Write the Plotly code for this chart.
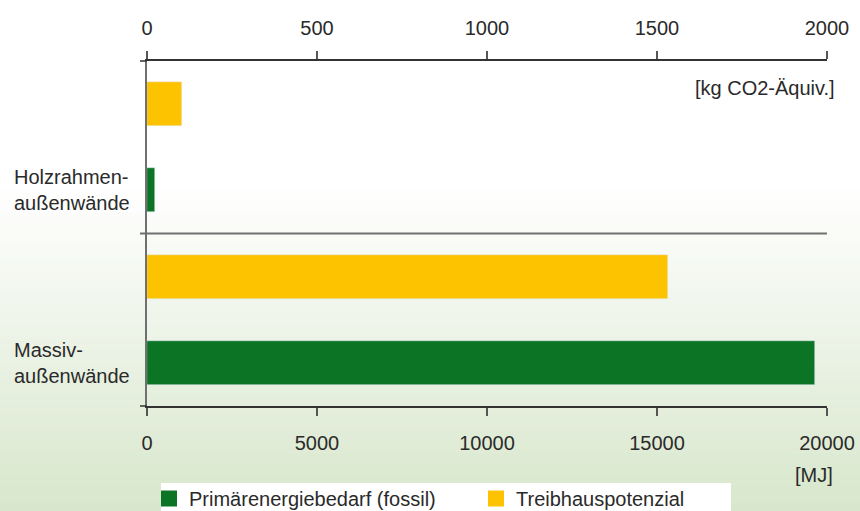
import numpy as np
import plotly.graph_objects as go

categories = ["Holzrahmen-außenwände", "Massiv-außenwände"]
category_labels = ["Holzrahmen-<br>außenwände", "Massiv-<br>außenwände"]
series_names = ["Primärenergiebedarf (fossil)", "Treibhauspotenzial"]
primaerenergie_mj = [235, 19650]        # Primärenergiebedarf (fossil) [MJ]
treibhaus_kg = [103, 1533]              # Treibhauspotenzial [kg CO2-Äquiv.]
mj_ticks = [0, 5000, 10000, 15000, 20000]
kg_ticks = [0, 500, 1000, 1500, 2000]

W, H = 860, 511
ML, MR, MT, MB = 147, 33, 61, 105
PW, PH = W - ML - MR, H - MT - MB

def px2x(px):
    return (px - ML) / PW

def py2y(py):
    return (H - MB - py) / PH

FONT = "Liberation Sans, Arial, Helvetica, sans-serif"
TXT = "#2a2a2a"
GREEN = "#0b7425"
YELLOW = "#fdc300"

fig = go.Figure()
fig.add_trace(go.Bar(
    name=series_names[0], y=categories, x=primaerenergie_mj,
    orientation="h", xaxis="x", yaxis="y", marker_color=GREEN,
    offset=0.1225, width=0.255, hoverinfo="x+name", showlegend=False))
fig.add_trace(go.Bar(
    name=series_names[1], y=categories, x=treibhaus_kg,
    orientation="h", xaxis="x2", yaxis="y", marker_color=YELLOW,
    offset=-0.3775, width=0.255, hoverinfo="x+name", showlegend=False))
# legend entries with larger square swatches
for nm, col in zip(series_names, [GREEN, YELLOW]):
    fig.add_trace(go.Scatter(x=[None], y=[None], mode="markers", name=nm,
                             marker=dict(symbol="square", size=16, color=col),
                             xaxis="x", yaxis="y", showlegend=True))

shapes = []
# background gradient (white -> light green)
top_c = np.array([255, 255, 255])
bot_c = np.array([216, 231, 204])
g0, g1, n = 190, H, 60
edges = np.linspace(g0, g1, n + 1)
shapes.append(dict(type="rect", xref="paper", yref="paper", layer="below",
                   x0=px2x(0), x1=px2x(W), y0=py2y(0), y1=py2y(g0),
                   fillcolor="white", line_width=0))
for i in range(n):
    t = (i + 0.5) / n
    c = top_c + (bot_c - top_c) * t
    shapes.append(dict(type="rect", xref="paper", yref="paper", layer="below",
                       x0=px2x(0), x1=px2x(W), y0=py2y(edges[i + 1] + 0.5), y1=py2y(edges[i]),
                       fillcolor="rgb(%d,%d,%d)" % tuple(c.astype(int)), line_width=0))
# legend white box
shapes.append(dict(type="rect", xref="paper", yref="paper", layer="below",
                   x0=px2x(161), x1=px2x(731), y0=py2y(H + 2), y1=py2y(483),
                   fillcolor="white", line_width=0))
# axis line extensions + middle separator
shapes.append(dict(type="line", xref="paper", yref="paper", x0=px2x(140), x1=0,
                   y0=1, y1=1, line=dict(color="#333333", width=1.5)))
shapes.append(dict(type="line", xref="paper", yref="paper", x0=px2x(140), x1=0,
                   y0=0, y1=0, line=dict(color="#333333", width=1.5)))
shapes.append(dict(type="line", xref="paper", yref="paper", x0=px2x(140), x1=1,
                   y0=0.5, y1=0.5, line=dict(color="#707070", width=2)))

annotations = [
    dict(text="[kg CO2-Äquiv.]", xref="paper", yref="paper", x=px2x(837), y=py2y(88),
         xanchor="right", yanchor="middle", showarrow=False,
         font=dict(family=FONT, size=20, color=TXT)),
    dict(text="[MJ]", xref="paper", yref="paper", x=px2x(835), y=py2y(475),
         xanchor="right", yanchor="middle", showarrow=False,
         font=dict(family=FONT, size=20, color=TXT)),
]
for i, lab in enumerate(category_labels):
    annotations.append(dict(text=lab, xref="paper", yref="y", x=px2x(12), y=i + 0.25,
                            xanchor="left", yanchor="middle", align="left", showarrow=False,
                            font=dict(family=FONT, size=20, color=TXT)))

axis_common = dict(showgrid=False, zeroline=False, showline=True, linecolor="#333333",
                   linewidth=1.5, ticks="outside", ticklen=8, tickwidth=1.5, tickcolor="#555555",
                   tickfont=dict(family=FONT, size=20, color=TXT), fixedrange=True)

fig.update_layout(
    width=W, height=H,
    margin=dict(l=ML, r=MR, t=MT, b=MB, pad=0, autoexpand=False),
    paper_bgcolor="white", plot_bgcolor="rgba(0,0,0,0)",
    font=dict(family=FONT, size=20, color=TXT),
    xaxis=dict(range=[0, 20000], tickvals=mj_ticks, ticktext=[str(v) for v in mj_ticks],
               side="bottom", anchor="y", ticklabelstandoff=10, **axis_common),
    xaxis2=dict(range=[0, 2000], tickvals=kg_ticks, ticktext=[str(v) for v in kg_ticks],
                side="top", overlaying="x", anchor="y", ticklabelstandoff=8, **axis_common),
    yaxis=dict(type="category", categoryarray=categories, range=[1.5, -0.5],
               showticklabels=False, showgrid=False, zeroline=False, showline=True,
               linecolor="#707070", linewidth=2, ticks="", fixedrange=True),
    showlegend=True,
    legend=dict(orientation="h", x=px2x(149), xanchor="left", y=py2y(479), yanchor="top",
                bgcolor="rgba(0,0,0,0)", borderwidth=0,
                font=dict(family=FONT, size=20, color=TXT),
                entrywidth=282, entrywidthmode="pixels", traceorder="normal",
                itemclick=False, itemdoubleclick=False),
    shapes=shapes, annotations=annotations,
    bargap=0,
)

fig.write_html("out.html", config={"displayModeBar": False},
               post_script="document.body.style.margin='0';document.body.style.overflow='hidden';")
